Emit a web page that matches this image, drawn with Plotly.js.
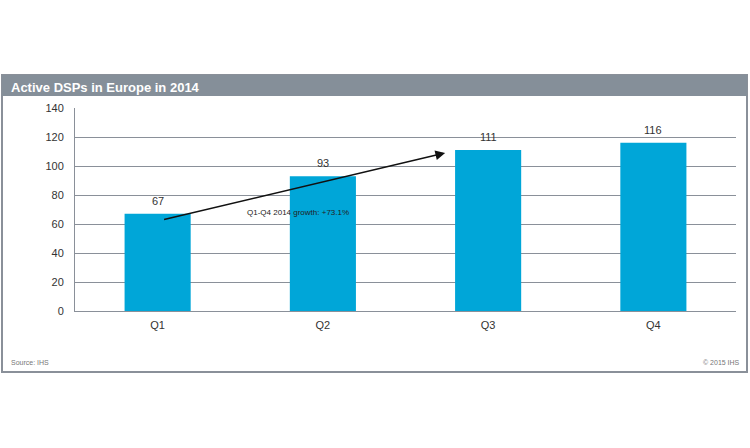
<!DOCTYPE html>
<html><head><meta charset="utf-8">
<script src="https://cdn.plot.ly/plotly-3.0.1.min.js"></script>
<style>html,body{margin:0;padding:0;background:#fff}#chart{width:750px;height:448px}</style>
</head><body><div id="chart"></div>
<script>
const categories = ['Q1','Q2','Q3','Q4'];
const values = [67, 93, 111, 116];
const yTicks = [0,20,40,60,80,100,120,140];
const titleText = 'Active DSPs in Europe in 2014';
const growthText = 'Q1-Q4 2014 growth: +73.1%';
const sourceText = 'Source: IHS';
const copyText = '\u00a9 2015 IHS';

// plot area: x 75..736, y 108..311
const L=75, R=736, T=108, B=311;
const px = v => (v-L)/(R-L);
const py = v => (B-v)/(B-T);

const trace = {
  type:'bar', x:categories, y:values,
  marker:{color:'#00a6d8'},
  hoverinfo:'none'
};
const valueLabels = categories.map((c,i)=>({
  x:c, y:values[i], xref:'x', yref:'y', yanchor:'middle', yshift:13, showarrow:false,
  text:String(values[i]), font:{size:11, color:'#333'}
}));
const layout = {
  width:750, height:448,
  margin:{l:L, r:750-R, t:T, b:448-B},
  paper_bgcolor:'#fff', plot_bgcolor:'#fff',
  bargap:0.6, showlegend:false,
  font:{family:'Arial, Liberation Sans, sans-serif', color:'#333'},
  xaxis:{showgrid:false, showline:true, linecolor:'#8a9099', linewidth:1,
    tickfont:{size:11, color:'#333'}, ticks:'', ticklabelstandoff:4, fixedrange:true},
  yaxis:{range:[0,140], tickvals:yTicks, showgrid:true, gridcolor:'#8a9099', gridwidth:1,
    showline:true, linecolor:'#8a9099', linewidth:1, zeroline:false,
    tickfont:{size:11, color:'#333'}, ticks:'', ticklabelstandoff:8, fixedrange:true},
  shapes:[
    {type:'rect', xref:'paper', yref:'paper', x0:px(2), x1:px(747), y0:py(372), y1:py(75),
      line:{color:'#8a9099', width:2}, fillcolor:'rgba(0,0,0,0)', layer:'below'},
    {type:'rect', xref:'paper', yref:'paper', x0:px(2), x1:px(747), y0:py(96), y1:py(75),
      line:{width:0}, fillcolor:'#858f99', layer:'below'}
  ],
  annotations:[
    {xref:'paper', yref:'paper', x:px(9), y:py(87), xanchor:'left', yanchor:'middle', showarrow:false,
      text:'<b>'+titleText+'</b>', font:{size:13, color:'#fff', family:'Arial, Liberation Sans, sans-serif'}},
    {x:1.74, y:109, ax:0.03, ay:62.8, xref:'x', yref:'y', axref:'x', ayref:'y',
      showarrow:true, arrowhead:2, arrowsize:1.3, arrowwidth:1.5, arrowcolor:'#111', text:''},
    {x:0.85, y:67.6, xref:'x', yref:'y', showarrow:false, text:growthText,
      font:{size:8, color:'#222'}},
    {xref:'paper', yref:'paper', x:px(9), y:py(362), xanchor:'left', yanchor:'middle', showarrow:false,
      text:sourceText, font:{size:7, color:'#777'}},
    {xref:'paper', yref:'paper', x:px(742), y:py(362), xanchor:'right', yanchor:'middle', showarrow:false,
      text:copyText, font:{size:7, color:'#777'}}
  ].concat(valueLabels)
};
Plotly.newPlot('chart',[trace],layout,{staticPlot:true});
</script></body></html>
